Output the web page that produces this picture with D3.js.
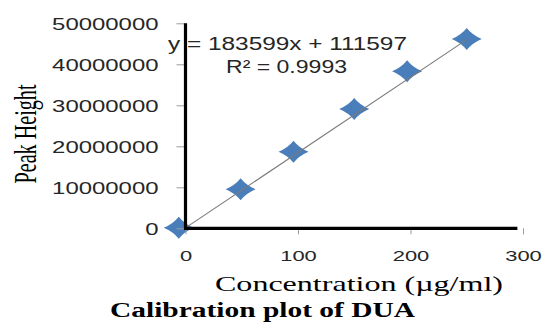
<!DOCTYPE html>
<html>
<head>
<meta charset="utf-8">
<script src="https://cdn.jsdelivr.net/npm/d3@7"></script>
<style>
  html, body { margin: 0; padding: 0; background: #fff; }
  svg { display: block; }
</style>
</head>
<body>
<svg id="chart" width="545" height="322"></svg>
<script>
// Calibration data: concentration (µg/ml) vs detector peak height
const concentration = [-6, 49, 96, 150, 197, 250];
const peakHeight = [150000, 9500000, 18700000, 29100000, 38300000, 46200000];

// Least-squares line reported on the chart
const slope = [183599];
const intercept = [111597];
const rSquared = ["0.9993"];
const trendRange = [0, 250];

const xTicks = [0, 100, 200, 300];
const yTicks = [0, 10000000, 20000000, 30000000, 40000000, 50000000];

const xTitle = "Concentration (\u00b5g/ml)";
const yTitle = "Peak Height";
const caption = "Calibration plot of DUA";

const svg = d3.select("#chart");

const x = d3.scaleLinear().domain([0, 300]).range([185.5, 523]);
const y = d3.scaleLinear().domain([0, 50000000]).range([228.3, 23.3]);

const blue = "#4a7ebb";

// Four-point diamond marker with slightly pinched sides
const marker = "M-15,0 Q-5.5,-4 0,-11 Q5.5,-4 15,0 Q5.5,4 0,11 Q-5.5,4 -15,0 Z";

svg.append("g")
  .selectAll("path")
  .data(concentration.map((c, i) => [c, peakHeight[i]]))
  .join("path")
  .attr("d", marker)
  .attr("transform", d => `translate(${x(d[0])},${y(d[1])})`)
  .attr("fill", blue);

// Linear trendline
const line = d3.line().x(d => x(d)).y(d => y(slope[0] * d + intercept[0]));
svg.append("path")
  .attr("d", line(trendRange))
  .attr("fill", "none")
  .attr("stroke", "#7a7a7a")
  .attr("stroke-width", 1.1);

// Y axis ticks and labels
const yAxis = svg.append("g")
  .attr("transform", `translate(${x(0)},0)`)
  .call(d3.axisLeft(y).tickValues(yTicks).tickFormat(d3.format("d")).tickSize(9).tickPadding(18));
yAxis.select(".domain").remove();
yAxis.selectAll("line").attr("stroke", "#9a9a9a").attr("stroke-width", 1);
yAxis.selectAll("text")
  .attr("font-family", "'Liberation Sans', Arial, sans-serif")
  .attr("font-size", 17)
  .attr("fill", "#262626")
  .attr("dy", "0.36em")
  .attr("textLength", d => String(d).length * 13.3)
  .attr("lengthAdjust", "spacingAndGlyphs");

// X axis ticks and labels
const xAxis = svg.append("g")
  .attr("transform", `translate(0,${y(0)})`)
  .call(d3.axisBottom(x).tickValues(xTicks).tickFormat(d3.format("d")).tickSize(6).tickPadding(16));
xAxis.select(".domain").remove();
xAxis.selectAll("line").attr("stroke", "#9a9a9a").attr("stroke-width", 1);
xAxis.selectAll("text")
  .attr("font-family", "'Liberation Sans', Arial, sans-serif")
  .attr("font-size", 15.5)
  .attr("fill", "#262626")
  .attr("textLength", d => String(d).length * 12.2)
  .attr("lengthAdjust", "spacingAndGlyphs");

// Heavy axis lines
svg.append("line")
  .attr("x1", x(0)).attr("x2", x(0))
  .attr("y1", y(50000000)).attr("y2", y(0) + 1.5)
  .attr("stroke", "#000").attr("stroke-width", 3.2);
svg.append("line")
  .attr("x1", x(0) - 1.5).attr("x2", x(295))
  .attr("y1", y(0)).attr("y2", y(0))
  .attr("stroke", "#000").attr("stroke-width", 3.2);

// Regression equation
svg.append("text")
  .attr("x", 168).attr("y", 49.5)
  .attr("font-family", "'Liberation Sans', Arial, sans-serif")
  .attr("font-size", 17.5)
  .attr("fill", "#262626")
  .attr("textLength", 239)
  .attr("lengthAdjust", "spacingAndGlyphs")
  .text(`y = ${slope[0]}x + ${intercept[0]}`);

svg.append("text")
  .attr("x", 226).attr("y", 72.5)
  .attr("font-family", "'Liberation Sans', Arial, sans-serif")
  .attr("font-size", 17.5)
  .attr("fill", "#262626")
  .attr("textLength", 121)
  .attr("lengthAdjust", "spacingAndGlyphs")
  .text(`R\u00b2 = ${rSquared[0]}`);

// Axis titles
svg.append("text")
  .attr("transform", "translate(36,134) rotate(-90)")
  .attr("text-anchor", "middle")
  .attr("font-family", "'Liberation Serif', 'Times New Roman', serif")
  .attr("font-size", 32)
  .attr("fill", "#000")
  .attr("textLength", 99)
  .attr("lengthAdjust", "spacingAndGlyphs")
  .text(yTitle);

svg.append("text")
  .attr("x", 215).attr("y", 291)
  .attr("font-family", "'Liberation Serif', 'Times New Roman', serif")
  .attr("font-size", 21.5)
  .attr("fill", "#000")
  .attr("textLength", 288)
  .attr("lengthAdjust", "spacingAndGlyphs")
  .text(xTitle);

// Caption
svg.append("text")
  .attr("x", 110).attr("y", 317)
  .attr("font-family", "'Liberation Serif', 'Times New Roman', serif")
  .attr("font-weight", "bold")
  .attr("font-size", 20.5)
  .attr("fill", "#000")
  .attr("textLength", 305)
  .attr("lengthAdjust", "spacingAndGlyphs")
  .text(caption);
</script>
</body>
</html>
